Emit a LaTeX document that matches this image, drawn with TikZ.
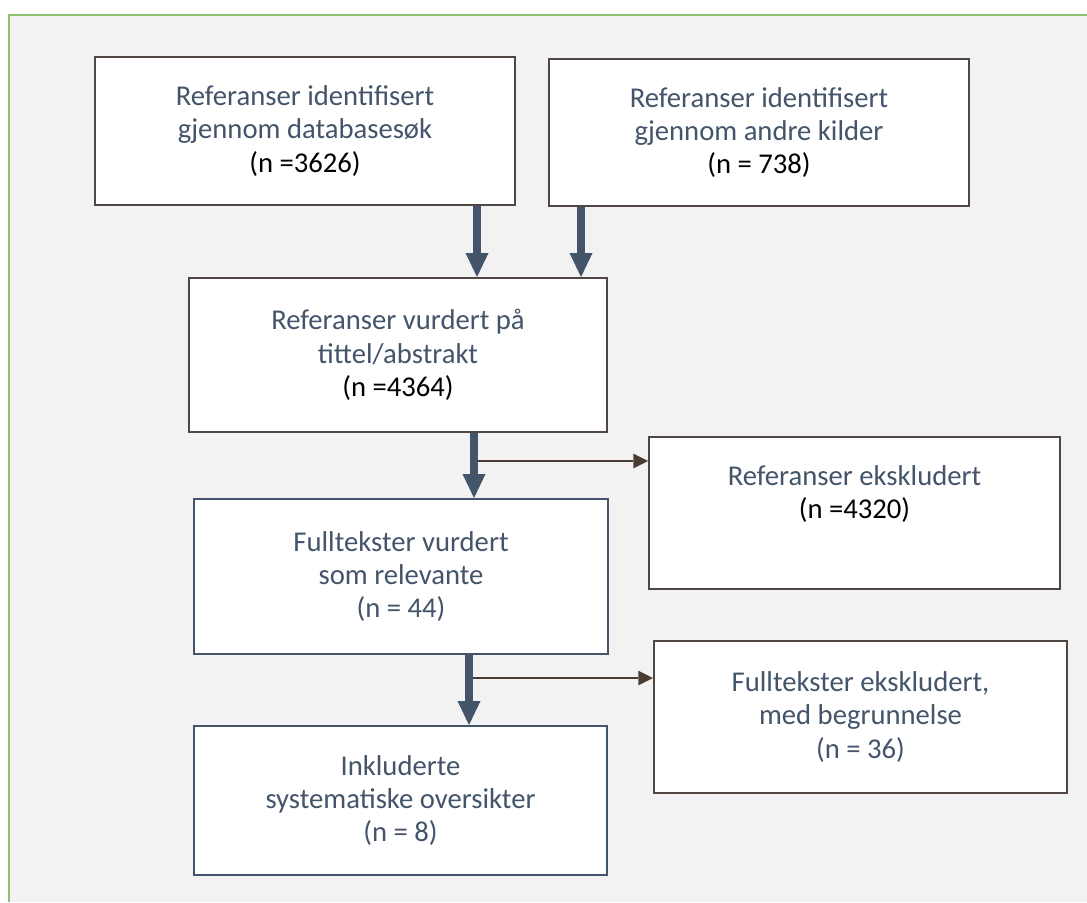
\documentclass[tikz,border=0pt]{standalone}
\usepackage{fontspec}
\setmainfont{Carlito}
\usetikzlibrary{arrows.meta}
\definecolor{slate}{HTML}{44546A}
\definecolor{boxbrown}{HTML}{504742}
\definecolor{thinbrown}{HTML}{4A3C33}
\definecolor{framegreen}{HTML}{8DC26F}
\definecolor{bggray}{HTML}{F2F2F2}
\tikzset{
  flowbox/.style={draw=boxbrown, line width=1.5pt, fill=white, align=center, inner sep=0pt,
    font=\fontsize{21.5}{25}\selectfont, text=slate},
  bluebox/.style={flowbox, draw=slate},
  boxtext/.style={align=center, inner sep=0pt, font=\fontsize{21.5}{25}\selectfont, text=slate},
  bigarrow/.style={draw=slate, line width=6pt, -{Triangle[width=17.25pt,length=18pt,line width=0pt]}},
  thinarrow/.style={draw=thinbrown, line width=1.1pt, -{Triangle[width=11pt,length=11pt,line width=0pt]}}
}
\begin{document}
\begin{tikzpicture}[x=0.75pt,y=-0.75pt]
\useasboundingbox (0,0) rectangle (1087,902);
\fill[white] (0,0) rectangle (1087,902);
\fill[bggray] (9,15) rectangle (1087,902);
\draw[framegreen, line width=1.5pt] (9,902) -- (9,15) -- (1087,15);

\node[flowbox, minimum width=315pt, minimum height=111pt] (b1) at (305,131)
  {Referanser identifisert\\gjennom databasesøk\\\textcolor{black}{(n =3626)}};
\node[flowbox, minimum width=315pt, minimum height=110.25pt] (b2) at (759,132.5)
  {Referanser identifisert\\gjennom andre kilder\\\textcolor{black}{(n = 738)}};
\node[flowbox, minimum width=313.5pt, minimum height=115.5pt] (b3) at (398,355)
  {Referanser vurdert på\\tittel/abstrakt\\\textcolor{black}{(n =4364)}};
\node[flowbox, minimum width=308.25pt, minimum height=114pt] (b4) at (854.5,513) {};
\node[boxtext] (b4t) at (854.5,494) {Referanser ekskludert\\\textcolor{black}{(n =4320)}};
\node[bluebox, minimum width=310.5pt, minimum height=116.25pt] (b5) at (401,576.5)
  {Fulltekster vurdert\\som relevante\\(n = 44)};
\node[flowbox, minimum width=309.75pt, minimum height=114pt] (b6) at (860.5,717)
  {Fulltekster ekskludert,\\med begrunnelse\\(n = 36)};
\node[bluebox, minimum width=309.75pt, minimum height=111.75pt] (b7) at (400.5,800.5)
  {Inkluderte\\systematiske oversikter\\(n = 8)};

\coordinate (s3) at (474,461);
\coordinate (s4) at (469,678);

\draw[bigarrow] (b1.south -| 477,0) -- (b3.north -| 477,0);
\draw[bigarrow] (b2.south -| 581,0) -- (b3.north -| 581,0);
\draw[thinarrow] (s3) -- (s3 -| b4.west);
\draw[bigarrow] (b3.south -| 474,0) -- (b5.north -| 474,0);
\draw[thinarrow] (s4) -- (s4 -| b6.west);
\draw[bigarrow] (b5.south -| 469,0) -- (b7.north -| 469,0);
\end{tikzpicture}
\end{document}
